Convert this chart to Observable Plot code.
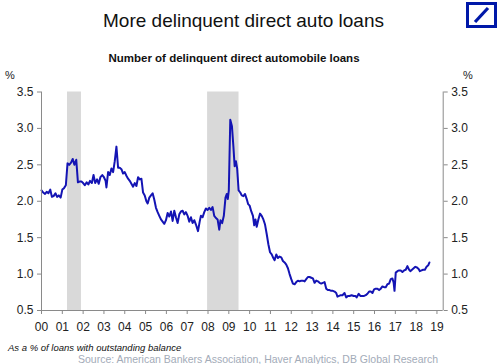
<!DOCTYPE html>
<html>
<head>
<meta charset="utf-8">
<script src="https://cdn.jsdelivr.net/npm/d3@7"></script>
<script src="https://cdn.jsdelivr.net/npm/@observablehq/plot@0.6"></script>
<style>
  html, body { margin: 0; padding: 0; background: #fff; }
  #wrap { position: relative; width: 500px; height: 364px; overflow: hidden; font-family: "Liberation Sans", Arial, sans-serif; }
  #chart { position: absolute; left: 0; top: 0; }
  .t { position: absolute; white-space: nowrap; color: #111; }
</style>
</head>
<body>
<div id="wrap">
  <div id="chart"></div>
  <div class="t" id="title" style="left:103px;top:10px;font-size:19px;">More delinquent direct auto loans</div>
  <div class="t" id="sub" style="left:0;width:468px;text-align:center;top:52px;font-size:11.5px;font-weight:bold;">Number of delinquent direct automobile loans</div>
  <div class="t" style="left:5px;top:69px;font-size:11px;color:#222;">%</div>
  <div class="t" style="left:463px;top:69px;font-size:11px;color:#222;">%</div>
  <div class="t" id="note" style="left:8px;top:342px;font-size:9.5px;font-style:italic;">As a % of loans with outstanding balance</div>
  <div class="t" id="src" style="left:78px;top:353px;font-size:10.5px;color:#a3abb8;">Source: American Bankers Association, Haver Analytics, DB Global Research</div>
  <svg class="t" style="left:466px;top:2px;" width="31" height="26" viewBox="0 0 31 26">
    <rect x="1.5" y="1.5" width="28" height="23" fill="#fff" stroke="#0018a8" stroke-width="3"/>
    <line x1="9" y1="20" x2="22" y2="6" stroke="#0018a8" stroke-width="3.2"/>
  </svg>
</div>
<script>
// Monthly-ish readings (decimal years) of delinquency rate, %
const years = [
  2000.00,2000.08,2000.17,2000.25,2000.33,2000.42,2000.50,2000.58,2000.67,2000.75,2000.83,2000.92,
  2001.00,2001.08,2001.17,2001.25,2001.33,2001.42,2001.50,2001.58,2001.67,2001.75,2001.83,2001.92,
  2002.00,2002.08,2002.17,2002.25,2002.33,2002.42,2002.50,2002.58,2002.67,2002.75,2002.83,2002.92,
  2003.00,2003.08,2003.12,2003.20,2003.28,2003.36,2003.44,2003.52,2003.60,2003.68,2003.76,2003.84,2003.92,
  2004.00,2004.08,2004.16,2004.24,2004.32,2004.40,2004.48,2004.56,2004.64,2004.72,2004.80,2004.88,2004.96,
  2005.04,2005.10,2005.18,2005.26,2005.34,2005.42,2005.50,2005.58,2005.66,2005.74,2005.82,2005.90,2005.98,
  2006.06,2006.14,2006.22,2006.30,2006.38,2006.46,2006.54,2006.62,2006.70,2006.78,2006.86,2006.94,
  2007.02,2007.10,2007.18,2007.26,2007.34,2007.42,2007.52,2007.60,2007.66,2007.74,2007.82,2007.90,2007.98,
  2008.06,2008.14,2008.22,2008.30,2008.38,2008.46,2008.54,2008.60,2008.68,2008.76,2008.84,2008.90,2008.95,
  2009.00,2009.07,2009.15,2009.22,2009.28,2009.34,2009.40,2009.47,2009.55,2009.62,2009.70,2009.78,2009.86,2009.93,
  2010.00,2010.08,2010.16,2010.22,2010.28,2010.34,2010.42,2010.50,2010.58,2010.66,2010.74,2010.82,2010.90,2010.98,
  2011.06,2011.14,2011.20,2011.28,2011.36,2011.44,2011.52,2011.60,2011.68,2011.76,2011.84,2011.92,
  2012.00,2012.08,2012.16,2012.24,2012.32,2012.40,2012.48,2012.56,2012.64,2012.72,2012.80,2012.88,2012.96,
  2013.04,2013.12,2013.20,2013.28,2013.36,2013.44,2013.52,2013.60,2013.68,2013.76,2013.84,2013.92,
  2014.00,2014.08,2014.16,2014.22,2014.30,2014.38,2014.46,2014.56,2014.64,2014.72,2014.80,2014.90,
  2015.00,2015.08,2015.14,2015.24,2015.32,2015.42,2015.50,2015.58,2015.66,2015.74,2015.82,2015.90,2015.98,
  2016.06,2016.14,2016.22,2016.30,2016.38,2016.46,2016.54,2016.62,2016.70,2016.78,2016.86,2016.92,2016.96,
  2017.02,2017.10,2017.18,2017.26,2017.34,2017.42,2017.50,2017.58,2017.66,2017.72,2017.80,2017.88,2017.96,
  2018.04,2018.12,2018.18,2018.26,2018.34,2018.42,2018.50,2018.58,2018.64
];
const rates = [
  2.15,2.12,2.10,2.13,2.11,2.16,2.06,2.07,2.11,2.06,2.08,2.05,
  2.16,2.18,2.22,2.52,2.50,2.53,2.58,2.50,2.57,2.26,2.27,2.27,
  2.25,2.22,2.26,2.23,2.28,2.25,2.36,2.25,2.30,2.24,2.33,2.36,
  2.33,2.28,2.19,2.40,2.36,2.45,2.40,2.55,2.75,2.46,2.46,2.44,2.38,
  2.40,2.35,2.31,2.28,2.24,2.20,2.25,2.21,2.33,2.30,2.31,2.12,2.08,
  2.00,1.97,2.05,2.08,2.11,2.02,1.91,1.85,1.80,1.75,1.72,1.69,1.74,
  1.84,1.79,1.86,1.73,1.87,1.78,1.70,1.82,1.86,1.87,1.82,1.85,
  1.80,1.72,1.78,1.70,1.74,1.68,1.59,1.72,1.80,1.78,1.85,1.90,1.88,
  1.91,1.88,1.92,1.80,1.77,1.75,1.61,1.74,1.70,1.80,2.05,2.10,2.03,
  2.15,3.12,3.03,2.75,2.48,2.55,2.45,2.15,2.12,2.08,2.07,2.10,2.03,1.96,
  1.94,1.86,1.80,1.67,1.75,1.65,1.75,1.83,1.80,1.75,1.68,1.55,1.41,1.30,
  1.27,1.22,1.19,1.27,1.22,1.24,1.23,1.18,1.16,1.13,1.08,1.00,
  0.93,0.87,0.86,0.89,0.91,0.90,0.91,0.91,0.90,0.93,0.96,0.96,0.95,
  0.94,0.88,0.91,0.90,0.88,0.87,0.88,0.89,0.80,0.78,0.78,0.77,
  0.77,0.76,0.74,0.69,0.70,0.71,0.71,0.74,0.68,0.70,0.70,0.71,
  0.70,0.70,0.68,0.73,0.70,0.70,0.70,0.71,0.73,0.76,0.76,0.74,0.79,
  0.80,0.80,0.78,0.80,0.83,0.82,0.82,0.86,0.87,0.93,0.94,0.88,0.77,
  1.02,1.04,1.05,1.05,1.03,1.05,1.06,1.11,1.06,1.04,1.06,1.08,1.10,
  1.09,1.07,1.04,1.05,1.06,1.06,1.10,1.12,1.16
];
// Recessions (decimal years)
const recStart = [2001.25, 2007.98];
const recEnd   = [2001.92, 2009.49];
const xTicks = d3.range(2000, 2020);
const yTicks = [0.5, 1.0, 1.5, 2.0, 2.5, 3.0, 3.5];
const xMin = 2000, xMax = 2019.3, yMin = 0.5, yMax = 3.5;

const series = years.map((y, i) => ({year: y, rate: rates[i]}));
const recessions = recStart.map((s, i) => ({x1: s, x2: recEnd[i]}));

const axisColor = "#8a8a8a";
const chart = Plot.plot({
  width: 500,
  height: 364,
  marginTop: 91.5,
  marginBottom: 54,
  marginLeft: 41,
  marginRight: 57.3,
  style: {fontFamily: "'Liberation Sans', Arial, sans-serif", fontSize: "12px", color: "#222", background: "transparent", overflow: "visible"},
  x: {domain: [xMin, xMax]},
  y: {domain: [yMin, yMax]},
  marks: [
    Plot.rect(recessions, {x1: "x1", x2: "x2", y1: yMin, y2: yMax, fill: "#d9d9d9"}),
    Plot.line(series, {x: "year", y: "rate", stroke: "#1414b4", strokeWidth: 2, strokeLinejoin: "round"}),
    Plot.ruleX([xMin, xMax], {stroke: axisColor}),
    Plot.ruleY([yMin], {stroke: axisColor}),
    Plot.axisY({anchor: "left", ticks: yTicks, tickFormat: d3.format(".1f"), tickSize: 4, tickPadding: 4, stroke: axisColor, label: null, fontSize: 12}),
    Plot.axisY({anchor: "right", ticks: yTicks, tickFormat: d3.format(".1f"), tickSize: 4, tickPadding: 4, stroke: axisColor, label: null, fontSize: 12}),
    Plot.axisX({anchor: "bottom", ticks: xTicks, tickFormat: d => String(d % 100).padStart(2, "0"), tickSize: 4, tickPadding: 8, stroke: axisColor, label: null, fontSize: 12})
  ]
});
document.getElementById("chart").appendChild(chart);
</script>
</body>
</html>
